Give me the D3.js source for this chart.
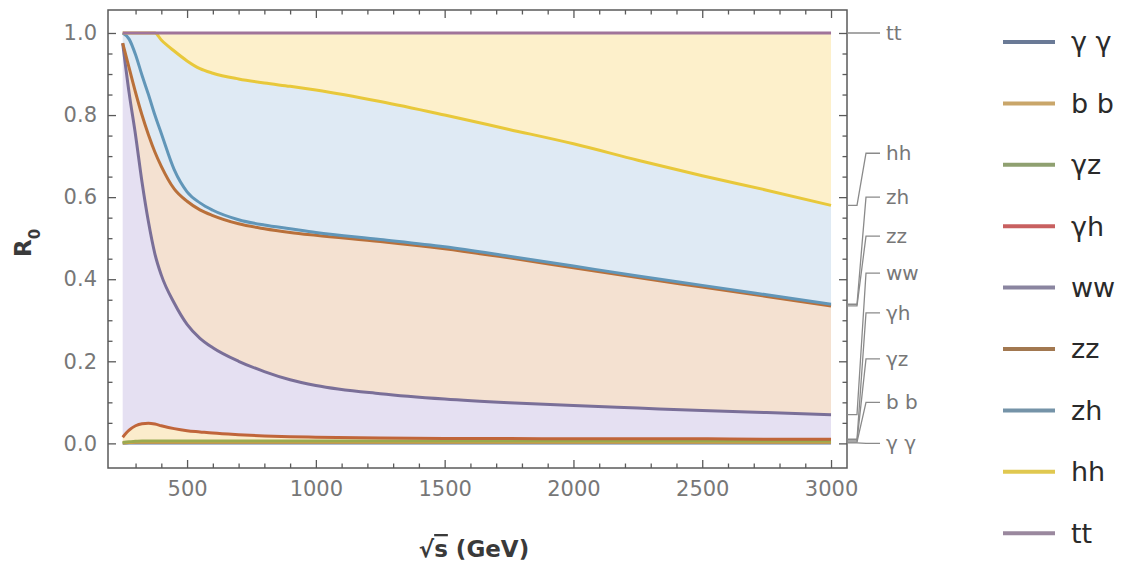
<!DOCTYPE html>
<html>
<head>
<meta charset="utf-8">
<script src="https://cdn.jsdelivr.net/npm/d3@7/dist/d3.min.js"></script>
<style>
  html, body { margin: 0; padding: 0; background: #ffffff; }
  svg { display: block; }
  text { font-family: "DejaVu Sans", sans-serif; }
</style>
</head>
<body>
<svg id="chart" width="1132" height="563"></svg>
<script>
// ---------------- data ----------------
const energies = [250, 275, 300, 325, 350, 375, 400, 450, 500, 550, 600, 700, 800, 900, 1000, 1250, 1500, 1750, 2000, 2250, 2500, 2750, 3000];

// cumulative (stacked) ratio curves R0 as drawn
const R_gg = [0.000, 0.001, 0.001, 0.001, 0.001, 0.001, 0.001, 0.001, 0.001, 0.001, 0.001, 0.001, 0.001, 0.001, 0.001, 0.001, 0.001, 0.001, 0.001, 0.001, 0.001, 0.001, 0.001];
const R_bb = [0.001, 0.002, 0.003, 0.003, 0.003, 0.003, 0.003, 0.003, 0.003, 0.003, 0.003, 0.003, 0.003, 0.003, 0.003, 0.003, 0.003, 0.003, 0.003, 0.003, 0.003, 0.003, 0.003];
const R_gz = [0.002, 0.004, 0.005, 0.006, 0.006, 0.006, 0.006, 0.006, 0.006, 0.006, 0.006, 0.006, 0.006, 0.006, 0.006, 0.006, 0.006, 0.006, 0.006, 0.006, 0.006, 0.006, 0.006];
const R_gh = [0.015, 0.032, 0.043, 0.048, 0.049, 0.047, 0.043, 0.036, 0.031, 0.028, 0.025, 0.021, 0.018, 0.016, 0.015, 0.013, 0.012, 0.012, 0.011, 0.011, 0.011, 0.010, 0.010];
const R_ww = [0.975, 0.854, 0.751, 0.637, 0.540, 0.462, 0.410, 0.342, 0.290, 0.256, 0.233, 0.200, 0.175, 0.155, 0.141, 0.121, 0.108, 0.099, 0.092, 0.086, 0.080, 0.075, 0.070];
const R_zz = [0.975, 0.915, 0.855, 0.800, 0.752, 0.710, 0.675, 0.620, 0.590, 0.569, 0.555, 0.535, 0.523, 0.514, 0.507, 0.492, 0.474, 0.452, 0.428, 0.404, 0.381, 0.358, 0.335];
const R_zh = [1.000, 0.985, 0.947, 0.897, 0.850, 0.800, 0.755, 0.667, 0.613, 0.586, 0.568, 0.545, 0.532, 0.523, 0.514, 0.497, 0.479, 0.456, 0.432, 0.408, 0.385, 0.362, 0.339];
const R_hh = [1.000, 1.000, 1.000, 1.000, 1.000, 1.000, 0.983, 0.956, 0.932, 0.913, 0.902, 0.888, 0.878, 0.870, 0.861, 0.833, 0.800, 0.765, 0.730, 0.690, 0.652, 0.617, 0.580];
const R_tt = [1.000, 1.000, 1.000, 1.000, 1.000, 1.000, 1.000, 1.000, 1.000, 1.000, 1.000, 1.000, 1.000, 1.000, 1.000, 1.000, 1.000, 1.000, 1.000, 1.000, 1.000, 1.000, 1.000];

const seriesNames = ["γ γ", "b b", "γz", "γh", "ww", "zz", "zh", "hh", "tt"];
const seriesValues = [R_gg, R_bb, R_gz, R_gh, R_ww, R_zz, R_zh, R_hh, R_tt];

// right-hand callout label positions (R0 units)
const calloutLabelR = [0.0, 0.100, 0.206, 0.318, 0.415, 0.505, 0.600, 0.707, 1.0];

const xMajorTicks = [500, 1000, 1500, 2000, 2500, 3000];
const xMinorTicks = [300, 400, 600, 700, 800, 900, 1100, 1200, 1300, 1400, 1600, 1700, 1800, 1900, 2100, 2200, 2300, 2400, 2600, 2700, 2800, 2900];
const yMajorTicks = [0.0, 0.2, 0.4, 0.6, 0.8, 1.0];
const yMinorTicks = [0.05, 0.1, 0.15, 0.25, 0.3, 0.35, 0.45, 0.5, 0.55, 0.65, 0.7, 0.75, 0.85, 0.9, 0.95];

// ---------------- styles ----------------
const lineColors = ["#5f7aa0", "#d9a040", "#9aaa50", "#c0653a", "#7a6f98", "#b9703a", "#6196b8", "#e8c83a", "#a0749a"];
const legendColors = ["#6a7a96", "#c9a66a", "#8fa070", "#c86060", "#8a85a0", "#a27850", "#7593a8", "#e0c850", "#9a889e"];
const bandColors = [null, "#fbe8c8", "#eef2d8", "#fbeccc", "#e5e0f2", "#f4e1d1", "#dfeaf4", "#dfeaf4", "#fdf0cb"];

// ---------------- layout ----------------
const svg = d3.select("#chart");
const frame = { left: 108, right: 847, top: 10, bottom: 468 };
const x = d3.scaleLinear().domain([193, 3062]).range([frame.left, frame.right]);
const y = d3.scaleLinear().domain([-0.06, 1.056]).range([frame.bottom, frame.top]);

const curve = d3.curveMonotoneX;
const pts = vals => energies.map((e, i) => [e, vals[i]]);

// bands
const gBands = svg.append("g");
seriesValues.forEach((vals, k) => {
  if (k === 0 || !bandColors[k]) return;
  const lower = seriesValues[k - 1];
  const area = d3.area()
    .curve(curve)
    .x((d, i) => x(energies[i]))
    .y0((d, i) => y(lower[i]))
    .y1((d, i) => y(vals[i]));
  gBands.append("path")
    .attr("d", area(vals))
    .attr("fill", bandColors[k])
    .attr("stroke", "none");
});

// lines
const line = d3.line().curve(curve).x(d => x(d[0])).y(d => y(d[1]));
const gLines = svg.append("g");
seriesValues.forEach((vals, k) => {
  gLines.append("path")
    .attr("d", line(pts(vals)))
    .attr("fill", "none")
    .attr("stroke", lineColors[k])
    .attr("stroke-width", 3)
    .attr("stroke-linejoin", "round");
});

// axes (ticks inward)
const frameColor = "#5a5a5a";
const labelColor = "#777777";
function styleAxis(g) {
  g.select(".domain").remove();
  g.selectAll(".tick line").attr("stroke", frameColor).attr("stroke-width", 1.3);
  g.selectAll(".tick text").attr("fill", labelColor).attr("font-size", 21)
    .attr("font-family", "DejaVu Sans, sans-serif");
}
svg.append("g").attr("transform", `translate(0,${frame.bottom})`)
  .call(d3.axisBottom(x).tickValues(xMajorTicks).tickSize(-8).tickPadding(13).tickFormat(d3.format("d")))
  .call(styleAxis);
svg.append("g").attr("transform", `translate(0,${frame.bottom})`)
  .call(d3.axisBottom(x).tickValues(xMinorTicks).tickSize(-4.5).tickFormat(""))
  .call(styleAxis);
svg.append("g").attr("transform", `translate(0,${frame.top})`)
  .call(d3.axisTop(x).tickValues(xMajorTicks).tickSize(-8).tickFormat(""))
  .call(styleAxis);
svg.append("g").attr("transform", `translate(0,${frame.top})`)
  .call(d3.axisTop(x).tickValues(xMinorTicks).tickSize(-4.5).tickFormat(""))
  .call(styleAxis);
svg.append("g").attr("transform", `translate(${frame.left},0)`)
  .call(d3.axisLeft(y).tickValues(yMajorTicks).tickSize(-8).tickPadding(11).tickFormat(d3.format(".1f")))
  .call(styleAxis);
svg.append("g").attr("transform", `translate(${frame.left},0)`)
  .call(d3.axisLeft(y).tickValues(yMinorTicks).tickSize(-4.5).tickFormat(""))
  .call(styleAxis);
svg.append("g").attr("transform", `translate(${frame.right},0)`)
  .call(d3.axisRight(y).tickValues(yMajorTicks).tickSize(-8).tickFormat(""))
  .call(styleAxis);
svg.append("g").attr("transform", `translate(${frame.right},0)`)
  .call(d3.axisRight(y).tickValues(yMinorTicks).tickSize(-4.5).tickFormat(""))
  .call(styleAxis);

// frame
svg.append("rect")
  .attr("x", frame.left).attr("y", frame.top)
  .attr("width", frame.right - frame.left).attr("height", frame.bottom - frame.top)
  .attr("fill", "none").attr("stroke", frameColor).attr("stroke-width", 1.5);

// callouts on the right
const gCall = svg.append("g");
seriesValues.forEach((vals, k) => {
  const yEnd = y(vals[vals.length - 1]);
  const yLab = y(calloutLabelR[k]);
  const xs = frame.right;
  const p = (k === seriesValues.length - 1)
    ? [[xs, yEnd], [880, yLab]]
    : [[xs, yEnd], [857, yEnd], [866, yLab], [880, yLab]];
  gCall.append("path")
    .attr("d", d3.line()(p))
    .attr("fill", "none").attr("stroke", "#8a8a8a").attr("stroke-width", 1.3);
  gCall.append("text")
    .attr("x", 886).attr("y", yLab)
    .attr("dy", "0.35em")
    .attr("font-size", 20).attr("fill", labelColor)
    .text(seriesNames[k]);
});

// axis labels
const xl = svg.append("text")
  .attr("x", 474).attr("y", 557)
  .attr("text-anchor", "middle")
  .attr("font-size", 23).attr("font-weight", "bold").attr("fill", "#3a3a3a");
xl.append("tspan").text("√");
xl.append("tspan").attr("text-decoration", "overline").text("s");
xl.append("tspan").text("  (GeV)");

const yl = svg.append("text")
  .attr("transform", "translate(31,243) rotate(-90)")
  .attr("text-anchor", "middle")
  .attr("font-size", 23).attr("font-weight", "bold").attr("fill", "#3a3a3a");
yl.append("tspan").text("R");
yl.append("tspan").attr("baseline-shift", "sub").attr("font-size", 15).text("0");

// legend
const gLeg = svg.append("g");
seriesNames.forEach((name, k) => {
  const ly = 42 + k * 61.4;
  gLeg.append("line")
    .attr("x1", 1003).attr("x2", 1055).attr("y1", ly).attr("y2", ly)
    .attr("stroke", legendColors[k]).attr("stroke-width", 4);
  gLeg.append("text")
    .attr("x", 1071).attr("y", ly).attr("dy", "0.35em")
    .attr("font-size", 27).attr("fill", "#2a2a2a")
    .text(name);
});
</script>
</body>
</html>
